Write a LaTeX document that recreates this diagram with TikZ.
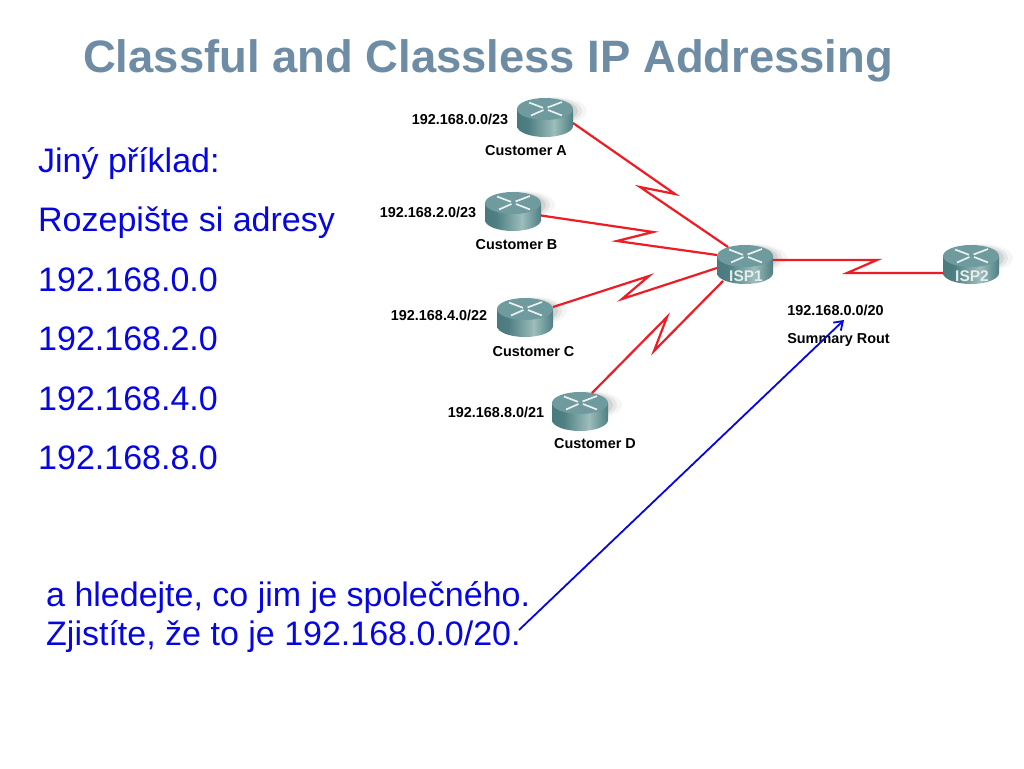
\documentclass[tikz,border=0pt]{standalone}
\usepackage{fontspec}
\setmainfont{Liberation Sans}
\usetikzlibrary{arrows.meta,shadings,fadings}
\definecolor{titlecol}{HTML}{6E8CA4}
\definecolor{textblue}{HTML}{0606E0}
\definecolor{linkred}{HTML}{EE1C25}
\definecolor{rdark}{HTML}{3F6B70}
\definecolor{rmid}{HTML}{4F7F83}
\definecolor{rlight}{HTML}{9CBDBB}
\definecolor{rtop}{HTML}{6F9A9E}
\pgfdeclarehorizontalshading{rbody}{100bp}{color(0bp)=(rdark);color(35bp)=(rmid);color(58bp)=(rlight);color(75bp)=(rmid);color(100bp)=(rdark)}
\tikzset{
  lbl/.style={font=\fontsize{14.4}{16}\selectfont\bfseries, text=black, inner sep=0pt, anchor=center},
  isplbl/.style={font=\fontsize{15.5}{17}\selectfont\bfseries, text=white!85!rmid, inner sep=0pt},
  link/.style={draw=linkred, line width=2.2pt, line join=miter, miter limit=10},
  bluetext/.style={font=\fontsize{34}{38}\selectfont, text=textblue, anchor=base west, inner sep=0pt},
  routermark/.style={draw=white!85!rtop, line width=1.7pt}
}
% #1 name, #2 left x, #3 top y : router box is 56 x 39
\newcommand{\routerat}[3]{%
  \begin{scope}[shift={(#2,#3)}]
    \fill[black,opacity=.04] (37,13) ellipse [x radius=33,y radius=14];
    \fill[black,opacity=.06] (36,13) ellipse [x radius=29,y radius=13];
    \fill[black,opacity=.08] (34,13) ellipse [x radius=27,y radius=12];
    \path[shading=rbody] (0,11) -- (0,28) .. controls (0,34) and (12.5,39) .. (28,39) .. controls (43.5,39) and (56,34) .. (56,28) -- (56,11) -- cycle;
    \fill[rtop] (28,11) ellipse [x radius=28,y radius=11];
    \draw[routermark] (14,17.5) -- (26.5,12) (30.5,9.5) -- (45,4);
    \draw[routermark] (12,4.5) -- (26,9.8) (31,12) -- (45,17.5);
    \node[inner sep=0pt,minimum width=56,minimum height=39,anchor=north west] (#1) at (0,0) {};
  \end{scope}}
\begin{document}
\begin{tikzpicture}[x=1pt,y=-1pt]
\useasboundingbox[fill=white] (0,0) rectangle (1024,768);
\node[font=\fontsize{45.4}{50}\selectfont\bfseries,text=titlecol,anchor=base west,inner sep=0pt] (title) at (83,72.5) {Classful and Classless IP Addressing};

\node[bluetext] (t1) at (38,172) {Jiný příklad:};
\node[bluetext] (t2) at (38,231) {Rozepište si adresy};
\node[bluetext] (t3) at (38,291) {192.168.0.0};
\node[bluetext] (t4) at (38,350) {192.168.2.0};
\node[bluetext] (t5) at (38,410) {192.168.4.0};
\node[bluetext] (t6) at (38,469) {192.168.8.0};
\node[bluetext] (t7) at (46,606.5) {a hledejte, co jim je společného.};
\node[bluetext] (t8) at (46,645) {Zjistíte, že to je 192.168.0.0/20.};

\routerat{ra}{517}{98}
\routerat{rb}{485}{192}
\routerat{rc}{497}{298}
\routerat{rd}{552}{392}
\routerat{isp1}{717}{245}
\routerat{isp2}{943}{245}

\coordinate (ra1) at (675,194); \coordinate (ra2) at (640,187);
\coordinate (rb1) at (653,232); \coordinate (rb2) at (617,241);
\coordinate (rc1) at (649,276); \coordinate (rc2) at (622,299);
\coordinate (rd1) at (667,317); \coordinate (rd2) at (654,351);
\coordinate (ii1) at (877,260); \coordinate (ii2) at (847,273);
\draw[link] ([shift={(56,25)}]ra.north west) -- (ra1) -- (ra2) -- ([shift={(11,2)}]isp1.north west);
\draw[link] ([shift={(56,23.5)}]rb.north west) -- (rb1) -- (rb2) -- ([shift={(0,10)}]isp1.north west);
\draw[link] ([shift={(56,9)}]rc.north west) -- (rc1) -- (rc2) -- ([shift={(0,23)}]isp1.north west);
\draw[link] ([shift={(40,1)}]rd.north west) -- (rd1) -- (rd2) -- ([shift={(6,36)}]isp1.north west);
\draw[link] ([shift={(56,15)}]isp1.north west) -- (ii1) -- (ii2) -- ([shift={(0,28)}]isp2.north west);

\node[isplbl] (l1) at (746,276) {ISP1};
\node[isplbl] (l2) at (972,276) {ISP2};

\node[lbl] (a1) at (460,119) {192.168.0.0/23};
\node[lbl] (a2) at (526,150.5) {Customer A};
\node[lbl] (b1) at (428,212.5) {192.168.2.0/23};
\node[lbl] (b2) at (516.5,244.5) {Customer B};
\node[lbl] (c1) at (439,315) {192.168.4.0/22};
\node[lbl] (c2) at (533.5,351.5) {Customer C};
\node[lbl] (d1) at (496,412.5) {192.168.8.0/21};
\node[lbl] (d2) at (595,444) {Customer D};
\node[lbl] (s1) at (835.5,310) {192.168.0.0/20};
\node[lbl] (s2) at (838.5,340) {Summary Rout};

\coordinate (bs) at (519,630);
\coordinate (be) at (844,320);
\draw[draw=textblue,line width=1.8pt,-{Straight Barb[length=8pt,width=11pt]}] (bs) -- (be);
\end{tikzpicture}
\end{document}
